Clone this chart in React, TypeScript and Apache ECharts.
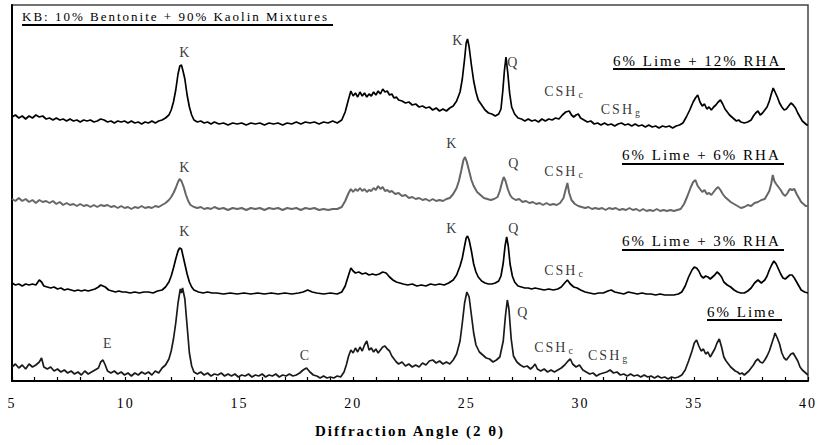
import React, { useEffect, useRef } from "react";
import * as echarts from "echarts";

// X-ray diffraction patterns: [2θ, intensity above the trace's own baseline]
const rha12: [number, number][] = [[5.0,12],[5.15,14],[5.3,11],[5.45,13],[5.6,10],[5.75,13],[5.9,11],[6.05,14],[6.2,12],[6.35,13],[6.5,10],[6.65,11],[6.8,9],[6.95,11],[7.1,9],[7.25,10],[7.4,8],[7.55,10],[7.7,8],[7.85,9],[8.0,7],[8.15,9],[8.3,8],[8.45,9],[8.6,7],[8.75,8],[8.9,10],[9.05,9],[9.2,7],[9.35,8],[9.5,6],[9.65,8],[9.8,7],[9.95,8],[10.1,6],[10.25,8],[10.4,6],[10.55,7],[10.7,5],[10.85,7],[11.0,6],[11.15,8],[11.3,6],[11.45,8],[11.6,9],[11.75,11],[11.9,14],[12.0,19],[12.1,27],[12.2,39],[12.3,55],[12.38,63],[12.45,64],[12.52,58],[12.6,50],[12.7,34],[12.8,22],[12.9,14],[13.0,9],[13.15,7],[13.3,8],[13.45,6],[13.6,7],[13.75,5],[13.9,7],[14.1,5],[14.3,6],[14.5,4],[14.7,6],[14.9,5],[15.1,6],[15.3,4],[15.5,6],[15.7,5],[15.9,6],[16.1,4],[16.3,6],[16.5,5],[16.7,6],[16.9,4],[17.1,6],[17.3,5],[17.5,7],[17.7,5],[17.9,7],[18.1,6],[18.3,7],[18.5,5],[18.7,7],[18.9,6],[19.1,8],[19.3,6],[19.5,9],[19.65,17],[19.8,30],[19.9,38],[20.0,33],[20.1,36],[20.2,32],[20.3,37],[20.4,33],[20.5,36],[20.6,32],[20.7,35],[20.8,33],[20.9,37],[21.0,34],[21.1,38],[21.2,35],[21.3,40],[21.4,37],[21.5,38],[21.6,34],[21.7,35],[21.8,31],[21.9,32],[22.0,29],[22.15,28],[22.3,26],[22.45,27],[22.6,24],[22.75,25],[22.9,22],[23.05,23],[23.2,21],[23.35,22],[23.5,19],[23.65,21],[23.8,18],[23.95,20],[24.1,18],[24.25,21],[24.4,23],[24.55,28],[24.7,37],[24.8,50],[24.9,70],[24.97,86],[25.03,90],[25.1,82],[25.2,64],[25.3,48],[25.4,37],[25.5,29],[25.65,24],[25.8,19],[25.95,16],[26.1,15],[26.25,13],[26.4,15],[26.5,20],[26.58,38],[26.65,58],[26.72,72],[26.8,56],[26.88,36],[26.97,22],[27.1,15],[27.25,11],[27.4,10],[27.55,8],[27.7,10],[27.85,8],[28.0,9],[28.15,7],[28.3,10],[28.45,8],[28.6,10],[28.75,9],[28.9,11],[29.05,10],[29.2,14],[29.35,17],[29.5,18],[29.6,14],[29.7,12],[29.8,14],[29.9,15],[30.0,11],[30.15,9],[30.3,7],[30.45,8],[30.6,5],[30.75,6],[30.9,4],[31.05,6],[31.2,4],[31.35,5],[31.5,3],[31.65,5],[31.8,6],[31.95,4],[32.1,5],[32.25,3],[32.4,5],[32.55,3],[32.7,4],[32.85,2],[33.0,4],[33.15,2],[33.3,3],[33.45,1],[33.6,3],[33.75,2],[33.9,3],[34.05,1],[34.2,3],[34.35,4],[34.5,6],[34.65,12],[34.8,19],[34.95,27],[35.05,31],[35.15,34],[35.25,27],[35.35,23],[35.45,25],[35.55,20],[35.65,22],[35.75,19],[35.85,22],[35.95,24],[36.05,27],[36.15,29],[36.25,25],[36.35,20],[36.45,17],[36.55,14],[36.65,12],[36.75,10],[36.85,8],[36.95,9],[37.05,7],[37.2,6],[37.35,7],[37.5,9],[37.6,13],[37.7,16],[37.8,18],[37.9,14],[38.0,16],[38.1,19],[38.2,22],[38.3,28],[38.4,36],[38.47,41],[38.55,37],[38.65,32],[38.75,26],[38.85,22],[38.95,19],[39.05,20],[39.15,23],[39.25,26],[39.35,24],[39.45,21],[39.55,16],[39.65,12],[39.75,8],[39.85,6],[39.95,4],[40.0,4]];

const rha6: [number, number][] = [[5.0,12],[5.15,10],[5.3,13],[5.45,10],[5.6,12],[5.75,9],[5.9,11],[6.05,8],[6.2,11],[6.35,9],[6.5,10],[6.65,8],[6.8,10],[6.95,7],[7.1,9],[7.25,6],[7.4,8],[7.55,6],[7.7,7],[7.85,5],[8.0,7],[8.15,5],[8.3,6],[8.45,4],[8.6,6],[8.75,4],[8.9,6],[9.05,5],[9.2,6],[9.35,4],[9.5,5],[9.65,3],[9.8,5],[9.95,3],[10.1,4],[10.25,2],[10.4,4],[10.55,3],[10.7,5],[10.85,3],[11.0,4],[11.15,3],[11.3,5],[11.45,4],[11.6,6],[11.75,8],[11.9,11],[12.0,14],[12.1,18],[12.2,23],[12.3,29],[12.37,32],[12.45,30],[12.55,24],[12.65,16],[12.75,10],[12.85,6],[13.0,4],[13.15,3],[13.3,4],[13.45,2],[13.6,3],[13.75,2],[13.9,4],[14.1,2],[14.3,3],[14.5,1],[14.7,3],[14.9,2],[15.1,3],[15.3,1],[15.5,3],[15.7,2],[15.9,3],[16.1,1],[16.3,3],[16.5,2],[16.7,3],[16.9,1],[17.1,3],[17.3,2],[17.5,3],[17.7,1],[17.9,3],[18.1,2],[18.3,3],[18.5,1],[18.7,2],[18.9,1],[19.1,2],[19.3,2],[19.5,4],[19.65,10],[19.8,18],[19.9,22],[20.0,19],[20.1,22],[20.2,20],[20.3,23],[20.4,20],[20.5,22],[20.6,19],[20.7,21],[20.8,20],[20.9,23],[21.0,21],[21.1,25],[21.2,22],[21.3,24],[21.4,20],[21.5,21],[21.6,19],[21.7,20],[21.85,17],[22.0,18],[22.15,15],[22.3,16],[22.45,13],[22.6,14],[22.75,12],[22.9,13],[23.05,11],[23.2,12],[23.35,10],[23.5,12],[23.65,10],[23.8,11],[23.95,10],[24.1,12],[24.25,13],[24.4,17],[24.55,23],[24.65,30],[24.75,40],[24.85,51],[24.92,54],[25.0,49],[25.1,40],[25.2,31],[25.3,25],[25.45,19],[25.6,16],[25.75,13],[25.9,12],[26.05,11],[26.2,12],[26.35,14],[26.45,20],[26.55,29],[26.62,34],[26.7,30],[26.8,22],[26.9,16],[27.0,13],[27.15,11],[27.3,12],[27.45,9],[27.6,10],[27.75,8],[27.9,9],[28.05,7],[28.2,8],[28.35,6],[28.5,8],[28.65,6],[28.8,7],[28.95,6],[29.1,8],[29.25,13],[29.35,22],[29.42,28],[29.5,18],[29.6,11],[29.75,7],[29.9,5],[30.05,4],[30.2,3],[30.35,4],[30.5,2],[30.65,3],[30.8,2],[30.95,3],[31.1,1],[31.25,3],[31.4,2],[31.55,3],[31.7,1],[31.85,2],[32.0,1],[32.15,3],[32.3,1],[32.45,2],[32.6,0],[32.75,2],[32.9,0],[33.05,1],[33.2,0],[33.35,2],[33.5,0],[33.65,1],[33.8,0],[33.95,1],[34.1,0],[34.25,1],[34.4,2],[34.55,7],[34.7,15],[34.85,24],[34.95,29],[35.05,31],[35.15,25],[35.25,22],[35.35,19],[35.45,21],[35.55,17],[35.65,18],[35.75,16],[35.85,19],[35.95,22],[36.05,24],[36.15,21],[36.25,17],[36.35,14],[36.45,12],[36.6,9],[36.75,7],[36.9,5],[37.05,3],[37.2,4],[37.35,6],[37.5,5],[37.65,8],[37.8,9],[37.95,11],[38.1,12],[38.2,16],[38.3,20],[38.38,27],[38.45,36],[38.52,30],[38.6,27],[38.7,24],[38.8,21],[38.9,17],[39.0,15],[39.1,18],[39.2,22],[39.3,21],[39.4,22],[39.5,17],[39.6,13],[39.7,9],[39.8,7],[39.9,5],[40.0,5]];

const rha3: [number, number][] = [[5.0,13],[5.15,11],[5.3,12],[5.45,10],[5.6,12],[5.75,11],[5.9,12],[6.05,11],[6.2,16],[6.3,14],[6.4,10],[6.55,9],[6.7,8],[6.85,9],[7.0,7],[7.15,8],[7.3,6],[7.45,7],[7.6,6],[7.75,5],[7.9,6],[8.05,5],[8.2,6],[8.35,5],[8.5,6],[8.65,7],[8.8,9],[8.9,11],[9.0,10],[9.1,9],[9.25,6],[9.4,5],[9.55,4],[9.7,5],[9.85,4],[10.0,4],[10.2,3],[10.4,4],[10.6,3],[10.8,4],[11.0,4],[11.2,3],[11.4,5],[11.6,6],[11.75,9],[11.9,14],[12.0,20],[12.1,28],[12.2,37],[12.3,45],[12.37,48],[12.45,47],[12.52,40],[12.6,32],[12.7,22],[12.8,14],[12.9,9],[13.0,6],[13.2,4],[13.4,3],[13.6,4],[13.8,3],[14.0,3],[14.3,2],[14.6,3],[14.9,2],[15.2,3],[15.5,2],[15.8,3],[16.1,2],[16.4,3],[16.7,2],[17.0,3],[17.3,2],[17.6,3],[17.8,4],[18.0,6],[18.2,4],[18.4,3],[18.7,2],[19.0,3],[19.3,2],[19.5,4],[19.65,10],[19.8,21],[19.9,28],[20.0,25],[20.1,23],[20.25,24],[20.4,22],[20.55,23],[20.7,21],[20.85,22],[21.0,21],[21.15,22],[21.3,24],[21.45,23],[21.6,19],[21.75,16],[21.9,14],[22.05,13],[22.2,12],[22.4,11],[22.6,12],[22.8,10],[23.0,11],[23.2,10],[23.4,12],[23.6,11],[23.8,12],[24.0,11],[24.2,13],[24.4,16],[24.55,21],[24.7,30],[24.8,38],[24.9,50],[24.97,58],[25.03,60],[25.1,56],[25.2,45],[25.3,32],[25.4,24],[25.5,19],[25.65,15],[25.8,13],[25.95,12],[26.1,12],[26.25,13],[26.4,15],[26.5,20],[26.6,33],[26.68,50],[26.75,59],[26.82,50],[26.9,32],[27.0,20],[27.1,14],[27.25,10],[27.4,9],[27.55,8],[27.7,8],[27.85,7],[28.0,8],[28.2,7],[28.4,6],[28.6,7],[28.8,6],[29.0,7],[29.15,9],[29.3,13],[29.42,16],[29.55,12],[29.7,9],[29.85,8],[30.0,6],[30.2,4],[30.4,3],[30.6,2],[30.8,3],[31.0,3],[31.2,5],[31.35,6],[31.5,4],[31.7,3],[31.9,2],[32.1,4],[32.3,3],[32.5,2],[32.7,3],[32.9,2],[33.1,2],[33.3,1],[33.5,2],[33.7,1],[33.9,1],[34.1,1],[34.3,2],[34.45,4],[34.6,10],[34.75,19],[34.9,26],[35.0,29],[35.1,28],[35.2,25],[35.3,20],[35.4,18],[35.5,20],[35.6,19],[35.7,17],[35.8,19],[35.9,21],[36.0,24],[36.1,22],[36.2,19],[36.3,14],[36.45,11],[36.6,9],[36.75,6],[36.9,4],[37.05,3],[37.2,3],[37.35,5],[37.5,8],[37.65,13],[37.8,16],[37.95,13],[38.1,16],[38.2,20],[38.3,26],[38.4,31],[38.5,35],[38.6,32],[38.7,27],[38.8,22],[38.9,18],[39.0,17],[39.1,19],[39.2,21],[39.3,21],[39.4,18],[39.5,14],[39.6,10],[39.7,6],[39.85,4],[40.0,3]];

const lime6: [number, number][] = [[5.0,14],[5.15,17],[5.3,13],[5.45,16],[5.6,12],[5.75,17],[5.9,14],[6.05,16],[6.2,19],[6.3,23],[6.4,14],[6.55,12],[6.7,14],[6.85,10],[7.0,12],[7.15,9],[7.3,11],[7.45,8],[7.6,10],[7.75,7],[7.9,9],[8.05,6],[8.2,10],[8.35,7],[8.5,9],[8.65,11],[8.8,13],[8.9,19],[9.0,21],[9.1,16],[9.2,10],[9.35,8],[9.5,10],[9.65,7],[9.8,9],[9.95,6],[10.1,8],[10.25,5],[10.4,8],[10.55,6],[10.7,9],[10.85,7],[11.0,9],[11.15,6],[11.3,10],[11.45,8],[11.6,13],[11.75,16],[11.9,22],[12.0,30],[12.1,42],[12.2,58],[12.3,78],[12.4,92],[12.45,88],[12.5,93],[12.6,82],[12.7,55],[12.8,28],[12.9,15],[13.0,9],[13.15,7],[13.3,9],[13.45,6],[13.6,8],[13.75,5],[13.9,7],[14.05,6],[14.2,8],[14.35,5],[14.5,7],[14.65,5],[14.8,7],[14.95,4],[15.1,6],[15.25,5],[15.4,7],[15.55,4],[15.7,6],[15.85,5],[16.0,7],[16.15,4],[16.3,6],[16.45,5],[16.6,7],[16.75,4],[16.9,6],[17.05,5],[17.2,7],[17.35,5],[17.5,6],[17.65,8],[17.8,11],[17.95,13],[18.1,9],[18.25,6],[18.4,5],[18.55,3],[18.7,5],[18.85,3],[19.0,4],[19.15,3],[19.3,5],[19.45,4],[19.6,9],[19.7,16],[19.8,25],[19.9,31],[20.0,28],[20.1,33],[20.2,29],[20.3,34],[20.4,30],[20.5,36],[20.6,40],[20.7,31],[20.8,33],[20.9,29],[21.0,32],[21.1,28],[21.2,31],[21.3,34],[21.4,35],[21.5,32],[21.6,30],[21.7,25],[21.8,22],[21.9,19],[22.0,17],[22.15,19],[22.3,15],[22.45,17],[22.6,14],[22.75,16],[22.9,14],[23.05,18],[23.2,16],[23.35,20],[23.5,21],[23.65,18],[23.8,20],[23.95,17],[24.1,19],[24.25,17],[24.4,21],[24.55,27],[24.7,40],[24.8,58],[24.9,78],[25.0,89],[25.1,84],[25.2,66],[25.3,48],[25.4,36],[25.55,29],[25.7,26],[25.85,23],[26.0,22],[26.15,19],[26.3,21],[26.45,24],[26.6,40],[26.7,66],[26.78,81],[26.85,72],[26.95,42],[27.05,25],[27.2,19],[27.35,16],[27.5,14],[27.65,15],[27.8,12],[27.9,14],[28.0,17],[28.1,12],[28.25,10],[28.4,12],[28.55,9],[28.7,11],[28.85,9],[29.0,11],[29.15,13],[29.3,16],[29.45,20],[29.55,22],[29.65,17],[29.8,14],[29.95,16],[30.1,11],[30.25,9],[30.4,7],[30.55,8],[30.7,5],[30.85,7],[31.0,8],[31.15,9],[31.3,11],[31.45,8],[31.6,9],[31.75,6],[31.9,7],[32.05,5],[32.2,7],[32.35,5],[32.5,6],[32.65,4],[32.8,6],[32.95,4],[33.1,5],[33.25,3],[33.4,5],[33.55,3],[33.7,4],[33.85,2],[34.0,4],[34.15,3],[34.3,4],[34.45,6],[34.6,11],[34.75,20],[34.9,30],[35.0,38],[35.1,41],[35.2,35],[35.3,30],[35.4,32],[35.5,27],[35.6,29],[35.7,24],[35.8,28],[35.9,32],[36.0,38],[36.1,42],[36.2,34],[36.3,24],[36.4,20],[36.5,17],[36.6,14],[36.7,12],[36.8,10],[36.9,9],[37.0,7],[37.1,8],[37.2,6],[37.3,8],[37.4,10],[37.5,13],[37.6,16],[37.7,20],[37.8,22],[37.9,19],[38.0,18],[38.1,21],[38.2,25],[38.3,30],[38.4,37],[38.5,44],[38.55,48],[38.65,43],[38.75,37],[38.85,28],[38.95,23],[39.05,21],[39.15,24],[39.25,27],[39.35,28],[39.45,24],[39.55,20],[39.65,14],[39.75,11],[39.85,9],[39.95,7],[40.0,6]];

const seriesNames = ["6% Lime + 12% RHA", "6% Lime + 6% RHA", "6% Lime + 3% RHA", "6% Lime"];
const seriesData = [rha12, rha6, rha3, lime6];
const seriesOffsets = [252, 170, 85, 0];
const seriesColors = ["#000000", "#666666", "#000000", "#1a1a1a"];

// Peak annotations: [label, subscript, 2θ, stacked intensity]
const peakLabels: [string, string, number, number][] = [
  ["K", "", 12.58, 329], ["K", "", 24.58, 341], ["Q", "", 27.0, 319], ["CSH", "c", 29.25, 290], ["CSH", "g", 31.75, 272],
  ["K", "", 12.58, 214], ["K", "", 24.32, 238], ["Q", "", 27.04, 218], ["CSH", "c", 29.25, 210],
  ["K", "", 12.58, 150], ["K", "", 24.32, 153], ["Q", "", 27.04, 153], ["CSH", "c", 29.25, 111],
  ["E", "", 9.19, 38], ["C", "", 17.86, 26], ["Q", "", 27.44, 69], ["CSH", "c", 28.81, 34], ["CSH", "g", 31.19, 26],
];

const xTicks = { min: 5, max: 40, interval: 5 };
const chartTitle = "KB: 10% Bentonite + 90% Kaolin Mixtures";
const xAxisTitle = "Diffraction Angle (2 θ)";

const SERIF = "Liberation Serif";

export default function App() {
  const ref = useRef<HTMLDivElement>(null);
  useEffect(() => {
    document.body.style.margin = "0";
    if (!ref.current) return;
    const chart = echarts.init(ref.current, null, { renderer: "svg" });

    const lines = seriesData.map((pts, i) => ({
      type: "line",
      name: seriesNames[i],
      data: pts.map(([x, y]) => [x, y + seriesOffsets[i]]),
      showSymbol: false,
      symbol: "none",
      lineStyle: { color: seriesColors[i], width: i === 1 ? 2 : 1.7 },
      itemStyle: { color: seriesColors[i] },
      z: 3,
    }));

    const labelSeries = {
      type: "scatter",
      symbolSize: 1,
      itemStyle: { color: "rgba(0,0,0,0)" },
      z: 5,
      data: peakLabels.map(([t, sub, x, y]) => ({
        value: [x, y],
        label: {
          show: true,
          position: "inside",
          formatter: sub ? `{m|${t}}{s|${sub}}` : `{m|${t}}`,
        },
      })),
      label: {
        show: true,
        color: "#000",
        fontFamily: SERIF,
        rich: {
          m: { fontFamily: SERIF, fontSize: 14, color: "#000", lineHeight: 16, align: "left" },
          s: { fontFamily: SERIF, fontSize: 10, color: "#000", lineHeight: 10, verticalAlign: "bottom", align: "left", padding: [0, 0, 0, 7] },
        },
      },
    };

    const legendBoxes = [
      { text: seriesNames[0], x: 613, y: 61, x2: 785, uy: 69 },
      { text: seriesNames[1], x: 622, y: 155, x2: 784, uy: 164 },
      { text: seriesNames[2], x: 622, y: 241, x2: 784, uy: 250 },
      { text: seriesNames[3], x: 707, y: 312, x2: 782, uy: 320 },
    ];

    const graphic: any[] = [
      {
        type: "text",
        x: 22,
        y: 16,
        style: { text: chartTitle, fill: "#000", fontFamily: SERIF, fontSize: 13, textAlign: "left", verticalAlign: "middle" },
        z: 10,
      },
      { type: "line", shape: { x1: 22, y1: 25, x2: 333, y2: 25 }, style: { stroke: "#000", lineWidth: 2 }, z: 10 },
    ];
    legendBoxes.forEach((b) => {
      graphic.push({
        type: "text",
        x: b.x,
        y: b.y,
        style: { text: b.text, fill: "#000", fontFamily: SERIF, fontSize: 15, textAlign: "left", verticalAlign: "middle" },
        z: 10,
      });
      graphic.push({ type: "line", shape: { x1: b.x, y1: b.uy, x2: b.x2, y2: b.uy }, style: { stroke: "#000", lineWidth: 2 }, z: 10 });
    });

    chart.setOption({
      animation: false,
      backgroundColor: "#ffffff",
      grid: { left: 12, right: 11, top: 5, bottom: 64, show: true, borderColor: "#444", borderWidth: 1.5 },
      xAxis: {
        type: "value",
        min: xTicks.min,
        max: xTicks.max,
        interval: xTicks.interval,
        name: xAxisTitle,
        nameLocation: "middle",
        nameGap: 42,
        nameTextStyle: { fontFamily: SERIF, fontWeight: "bold", fontSize: 15, color: "#000" },
        axisLine: { show: true, onZero: false, lineStyle: { color: "#000", width: 2 } },
        axisTick: { show: true, inside: true, length: 4, lineStyle: { color: "#000", width: 1.2 } },
        minorTick: { show: true, splitNumber: 5, length: 4, lineStyle: { color: "#000", width: 1.2 } },
        axisLabel: { fontFamily: SERIF, fontSize: 14, color: "#000", margin: 15 },
        splitLine: { show: false },
        minorSplitLine: { show: false },
      },
      yAxis: {
        type: "value",
        min: 0,
        max: 376,
        axisLine: { show: true, onZero: false, lineStyle: { color: "#000", width: 2 } },
        axisTick: { show: false },
        axisLabel: { show: false },
        splitLine: { show: false },
      },
      series: [...lines, labelSeries],
      graphic,
    } as any);

    return () => chart.dispose();
  }, []);

  return (
    <>
      <style>{"#xrd-chart text { letter-spacing: 2px; }"}</style>
      <div id="xrd-chart" ref={ref} style={{ width: 819, height: 445, overflow: "hidden" }} />
    </>
  );
}
